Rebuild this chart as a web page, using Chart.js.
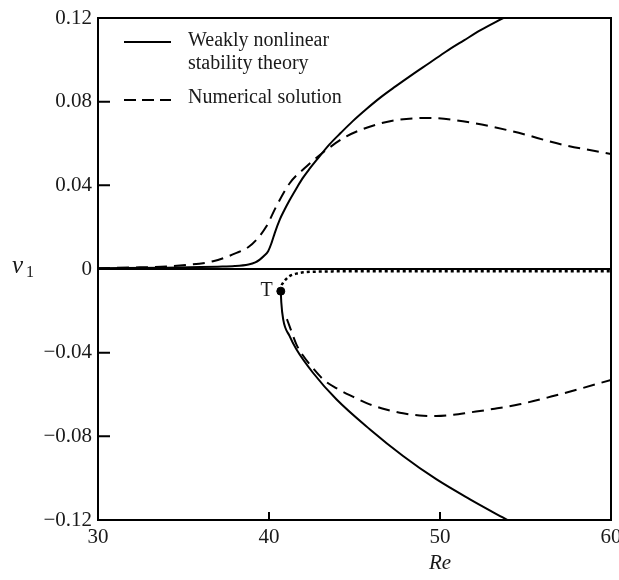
<!DOCTYPE html>
<html>
<head>
<meta charset="utf-8">
<script src="https://cdn.jsdelivr.net/npm/chart.js@4/dist/chart.umd.min.js"></script>
<style>
    html, body { margin: 0; padding: 0; background: #fff; }
    canvas { display: block; }
</style>
</head>
<body>
<canvas id="bifurcation" width="619" height="580"></canvas>
<script>
// axis ticks
const xTicks = [30, 40, 50, 60];
const yTicks = [-0.12, -0.08, -0.04, 0, 0.04, 0.08, 0.12];
const yTickLabels = ['\u22120.12', '\u22120.08', '\u22120.04', '0', '0.04', '0.08', '0.12'];

// weakly nonlinear stability theory (solid)
const theoryUpperRe = [30, 34, 36, 37, 38, 38.8, 39.2, 39.46, 39.7, 39.95, 40.15, 40.34, 40.63, 40.9, 41.21, 41.6, 41.95, 42.4, 42.8, 43.55, 44.2, 44.9, 45.7, 46.47, 47.4, 48.42, 49.4, 50.36, 51.4, 52.4, 53.7, 54.5];
const theoryUpperV = [0.0004, 0.0006, 0.0009, 0.0011, 0.0014, 0.0022, 0.0032, 0.0045, 0.0062, 0.0085, 0.0125, 0.0173, 0.0236, 0.0282, 0.0330, 0.0385, 0.0432, 0.0482, 0.0523, 0.0597, 0.0651, 0.0707, 0.0765, 0.0817, 0.0873, 0.0932, 0.0986, 0.1040, 0.1093, 0.1143, 0.12, 0.1235];
const theoryLowerRe = [40.69, 40.72, 40.83, 41.2, 41.6, 42.57, 43.94, 45.89, 47.84, 49.78, 51.73, 53.67, 54.5];
const theoryLowerV = [-0.0106, -0.016, -0.0241, -0.032, -0.0384, -0.0496, -0.0623, -0.0766, -0.0894, -0.1005, -0.110, -0.1188, -0.1225];
const zeroRe = [30, 60];
const zeroV = [0, 0];

// unstable branch (dotted)
const unstableRe = [40.69, 40.72, 40.82, 41.0, 41.2, 41.6, 42.0, 43.2, 45, 60];
const unstableV = [-0.0106, -0.0085, -0.0066, -0.0048, -0.0034, -0.0022, -0.0016, -0.0012, -0.0011, -0.0011];

// numerical solution (dashed)
const numUpperRe = [30, 32, 34, 34.79, 36.73, 38.1, 38.8, 39.27, 39.85, 40.43, 41.21, 42.19, 43.14, 44.53, 46.27, 47.5, 49.39, 51.34, 54.26, 57.18, 60];
const numUpperV = [0.0004, 0.0007, 0.0012, 0.0017, 0.0037, 0.0077, 0.0105, 0.014, 0.0204, 0.030, 0.041, 0.049, 0.0556, 0.0634, 0.069, 0.0713, 0.0722, 0.0706, 0.0658, 0.0594, 0.055];
const numLowerRe = [41.05, 41.2, 41.6, 42.0, 42.58, 43.2, 43.94, 44.9, 45.89, 46.9, 47.84, 48.8, 49.78, 50.8, 51.73, 53.2, 54.65, 56.5, 58.3, 60];
const numLowerV = [-0.024, -0.0273, -0.036, -0.0415, -0.0475, -0.053, -0.057, -0.061, -0.0647, -0.0673, -0.069, -0.0700, -0.0703, -0.0697, -0.0686, -0.0668, -0.0647, -0.061, -0.057, -0.053];

// turning point T
const turnRe = [40.69];
const turnV = [-0.0106];

const legendLabels = [['Weakly nonlinear', 'stability theory'], ['Numerical solution']];

const toPoints = (xs, ys) => xs.map((x, i) => ({ x: x, y: ys[i] }));

const serif = '"Liberation Serif", "DejaVu Serif", serif';
const ink = '#1a1a1a';

function line(data, dash, width) {
    return {
        type: 'scatter',
        data: data,
        showLine: true,
        borderColor: '#000',
        borderWidth: width || 2,
        borderDash: dash || [],
        pointRadius: 0,
        cubicInterpolationMode: 'monotone',
        fill: false,
    };
}

// box, inward ticks, legend and labels
const decorations = {
    id: 'decorations',
    afterDraw(chart) {
        const { ctx, chartArea: area, scales: { x, y } } = chart;
        ctx.save();
        ctx.strokeStyle = '#000';
        ctx.lineWidth = 2;
        ctx.strokeRect(area.left, area.top, area.right - area.left, area.bottom - area.top);

        ctx.beginPath();
        yTicks.forEach((v) => {
            const py = y.getPixelForValue(v);
            ctx.moveTo(area.left, py);
            ctx.lineTo(area.left + 12, py);
        });
        xTicks.forEach((v) => {
            const px = x.getPixelForValue(v);
            ctx.moveTo(px, area.bottom);
            ctx.lineTo(px, area.bottom - 8);
        });
        ctx.stroke();

        // legend
        ctx.beginPath();
        ctx.moveTo(124, 42);
        ctx.lineTo(171, 42);
        ctx.stroke();
        ctx.setLineDash([12, 6]);
        ctx.beginPath();
        ctx.moveTo(124, 100);
        ctx.lineTo(171, 100);
        ctx.stroke();
        ctx.setLineDash([]);

        ctx.fillStyle = ink;
        ctx.font = '20px ' + serif;
        ctx.textAlign = 'left';
        ctx.textBaseline = 'middle';
        ctx.fillText(legendLabels[0][0], 188, 41);
        ctx.fillText(legendLabels[0][1], 188, 64);
        ctx.fillText(legendLabels[1][0], 188, 98);

        // T marker label
        ctx.textAlign = 'right';
        ctx.fillText('T', x.getPixelForValue(turnRe[0]) - 8, y.getPixelForValue(turnV[0]));

        // axis titles
        ctx.font = 'italic 21px ' + serif;
        ctx.textAlign = 'center';
        ctx.fillText('Re', x.getPixelForValue(50), 563);
        ctx.textAlign = 'left';
        ctx.font = 'italic 25px ' + serif;
        ctx.fillText('v', 12, 266);
        ctx.font = '16px ' + serif;
        ctx.fillText('1', 26, 273);
        ctx.restore();
    }
};

new Chart(
    document.getElementById('bifurcation'),
    {
        data: {
            datasets: [
                line(toPoints(zeroRe, zeroV)),
                line(toPoints(theoryUpperRe, theoryUpperV)),
                line(toPoints(theoryLowerRe, theoryLowerV)),
                line(toPoints(numUpperRe, numUpperV), [12, 7]),
                line(toPoints(numLowerRe, numLowerV), [12, 7]),
                line(toPoints(unstableRe, unstableV), [3, 3], 2.5),
                {
                    type: 'scatter',
                    data: toPoints(turnRe, turnV),
                    pointRadius: 4,
                    backgroundColor: '#000',
                    borderColor: '#000',
                },
            ]
        },
        options: {
            responsive: false,
            animation: false,
            layout: {
                padding: { top: 18, right: 8, left: 0, bottom: 0 }
            },
            plugins: {
                legend: { display: false },
                tooltip: { enabled: false }
            },
            scales: {
                x: {
                    type: 'linear',
                    min: 30,
                    max: 60,
                    afterBuildTicks: (scale) => {
                        scale.ticks = xTicks.map((v) => ({ value: v }));
                    },
                    afterFit: (scale) => {
                        scale.height = 60;
                        scale.paddingLeft = 0;
                        scale.paddingRight = 0;
                    },
                    grid: { display: false, drawTicks: false },
                    border: { display: false },
                    ticks: {
                        maxRotation: 0,
                        autoSkip: false,
                        padding: 5,
                        color: ink,
                        font: { family: serif, size: 21 },
                        callback: (value) => String(value)
                    }
                },
                y: {
                    type: 'linear',
                    min: -0.12,
                    max: 0.12,
                    afterBuildTicks: (scale) => {
                        scale.ticks = yTicks.map((v) => ({ value: v }));
                    },
                    afterFit: (scale) => {
                        scale.width = 98;
                        scale.paddingTop = 0;
                        scale.paddingBottom = 0;
                    },
                    grid: { display: false, drawTicks: false },
                    border: { display: false },
                    ticks: {
                        autoSkip: false,
                        padding: 6,
                        color: ink,
                        font: { family: serif, size: 21 },
                        callback: (value) => {
                            const i = yTicks.findIndex((t) => Math.abs(t - value) < 1e-9);
                            return i >= 0 ? yTickLabels[i] : '';
                        }
                    }
                }
            }
        },
        plugins: [decorations]
    }
);
</script>
</body>
</html>
